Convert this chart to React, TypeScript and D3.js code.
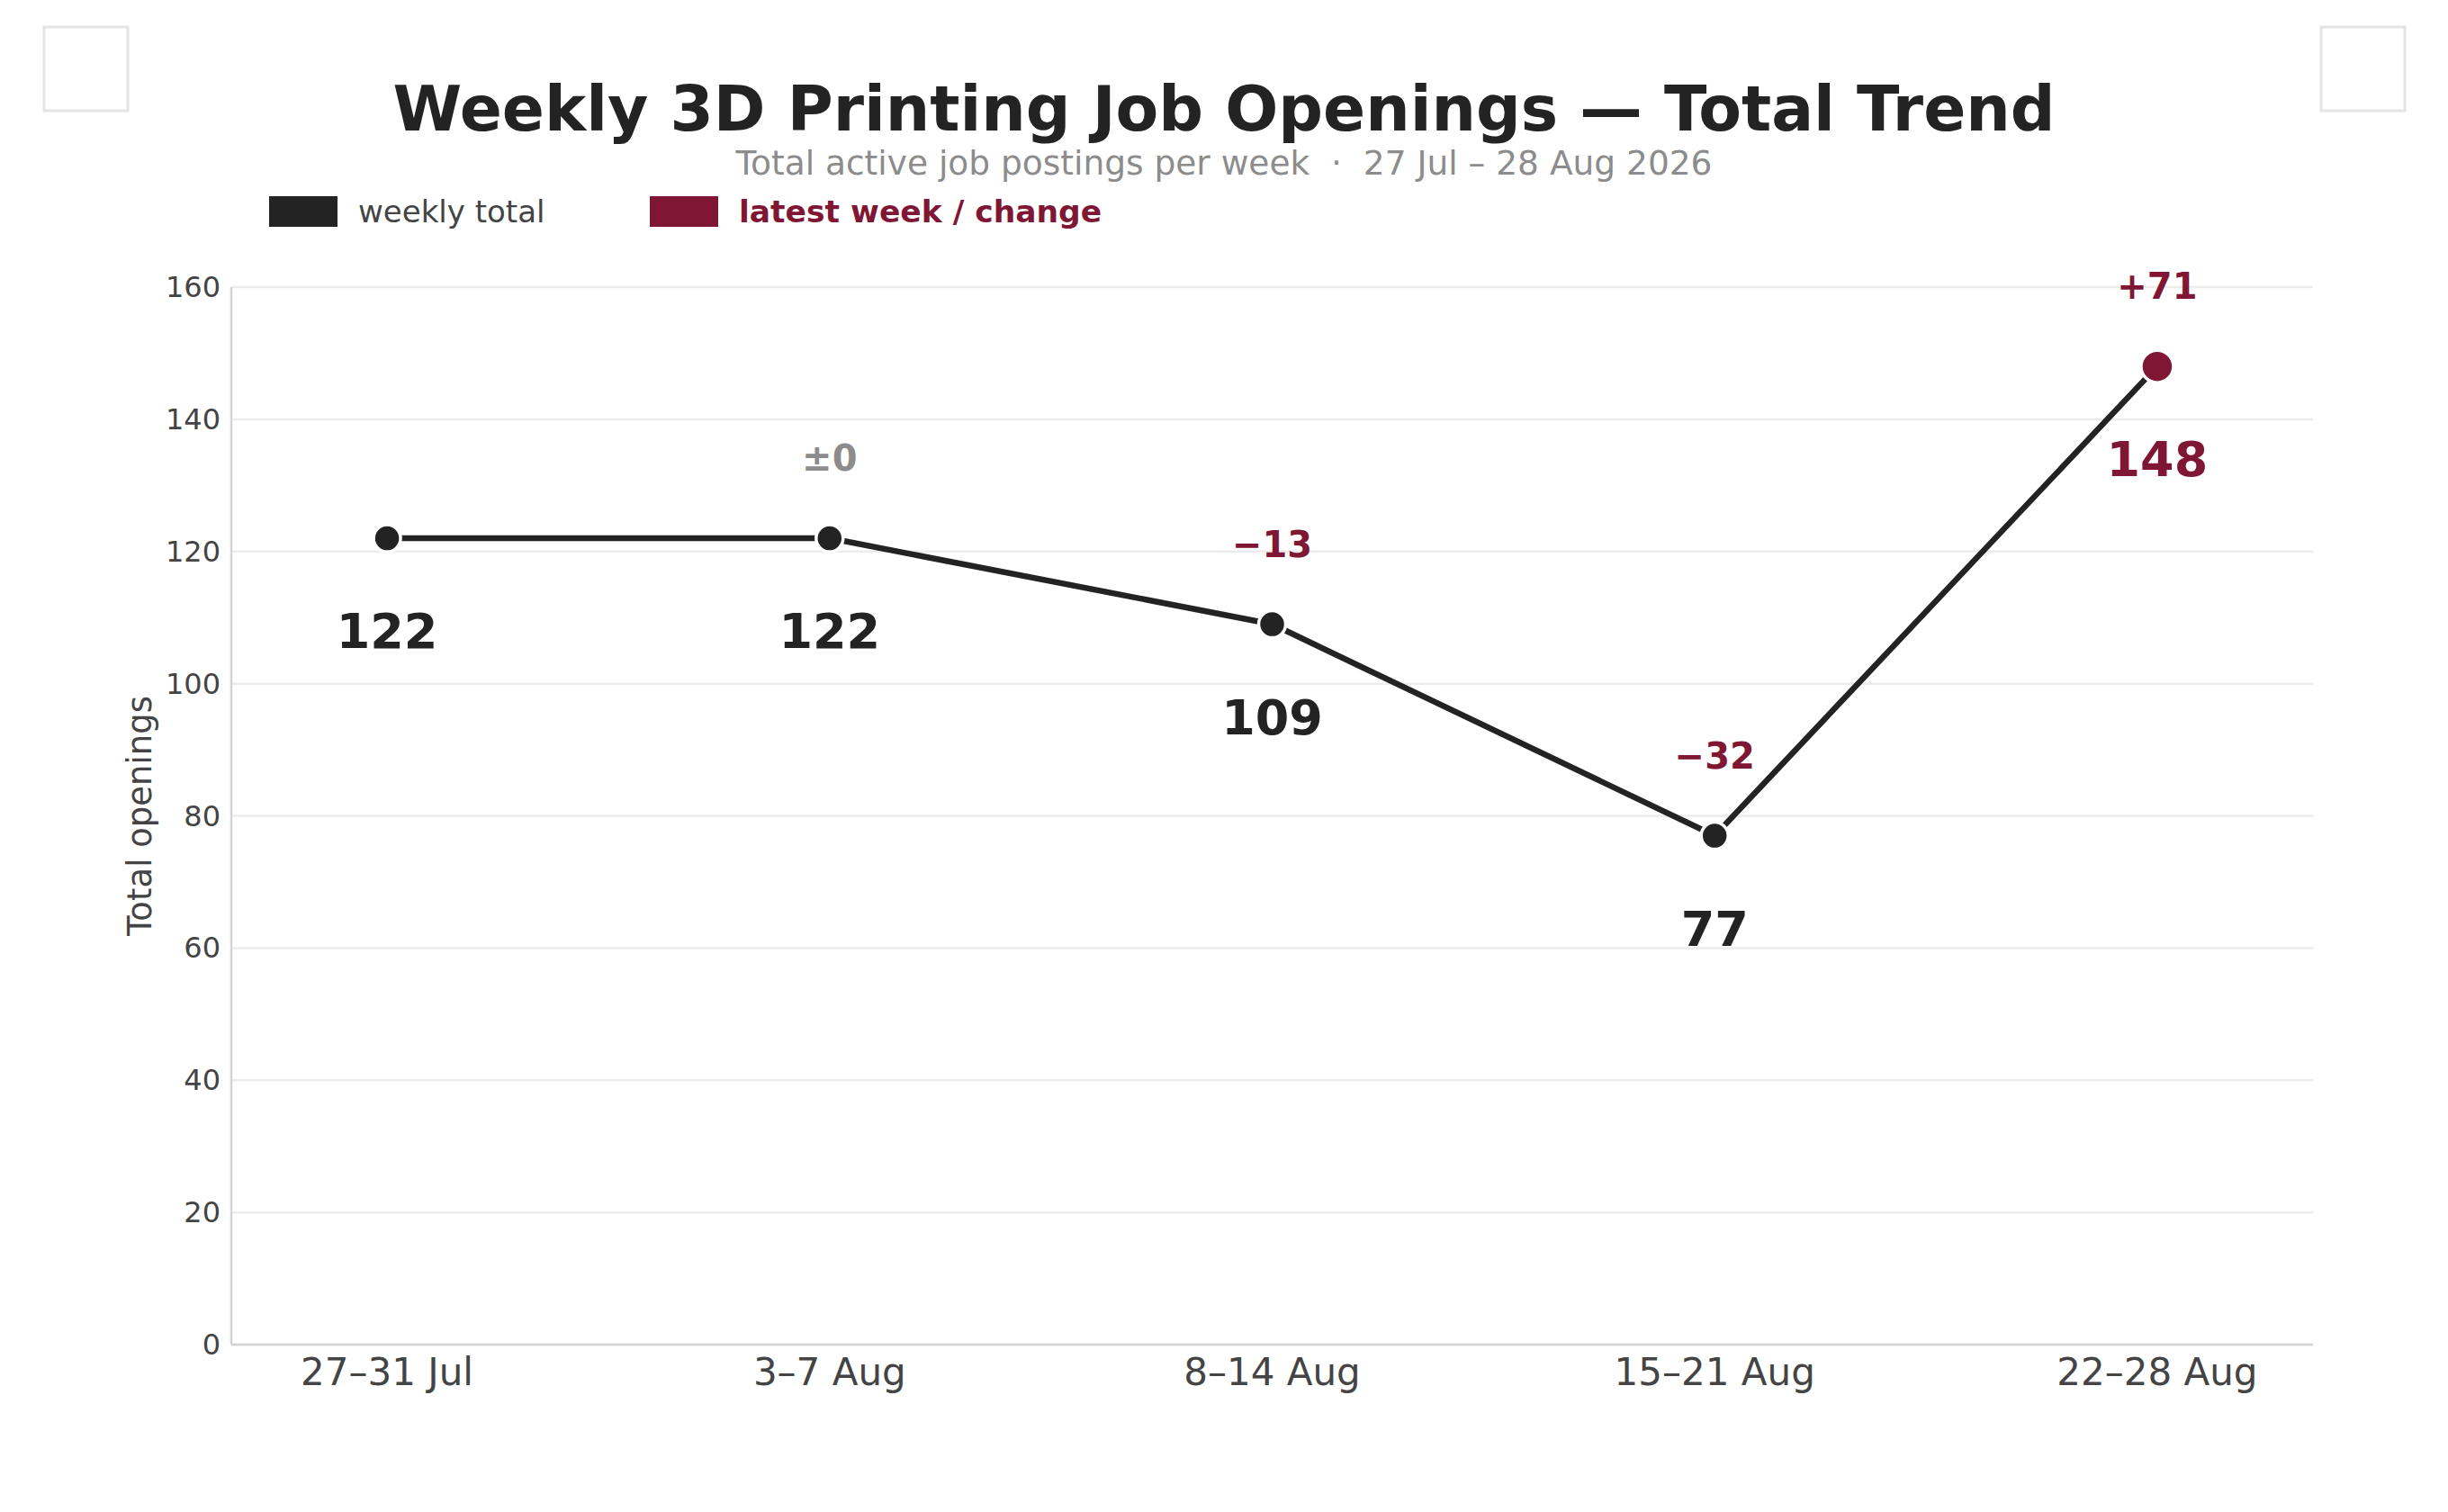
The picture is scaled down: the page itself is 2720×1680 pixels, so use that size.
import React, { useEffect } from 'react';
import * as d3 from 'd3';

const weeks = ['27–31 Jul', '3–7 Aug', '8–14 Aug', '15–21 Aug', '22–28 Aug'];
const totals = [122, 122, 109, 77, 148];
const yTicks = [0, 20, 40, 60, 80, 100, 120, 140, 160];

const DARK = '#232323';
const CRIMSON = '#7f1734';
const GREY = '#8c8c8c';
const FONT = '"DejaVu Sans", Verdana, sans-serif';

const W = 2720;
const H = 1680;
const margin = { top: 319, right: 150, bottom: 186, left: 257 };

const fmtChange = (d: number) => (d === 0 ? '±0' : d > 0 ? `+${d}` : `−${Math.abs(d)}`);

const App: React.FC = () => {
  useEffect(() => {
    document.body.style.margin = '0';
  }, []);

  const x = d3
    .scalePoint<string>()
    .domain(weeks)
    .range([margin.left, W - margin.right])
    .padding(0.352);

  const y = d3
    .scaleLinear()
    .domain([0, 160])
    .range([H - margin.bottom, margin.top]);

  const line = d3
    .line<number>()
    .x((_, i) => x(weeks[i])!)
    .y((d) => y(d));

  const last = totals.length - 1;

  return (
    <svg width={W} height={H} style={{ display: 'block', fontFamily: FONT }}>
      <rect width={W} height={H} fill="#fff" />

      {/* corner placeholders */}
      <rect x={49} y={30} width={93} height={93} fill="none" stroke="#e4e4e4" strokeWidth={3} />
      <rect x={2579} y={30} width={93} height={93} fill="none" stroke="#e4e4e4" strokeWidth={3} />

      {/* title block */}
      <text x={W / 2} y={145} textAnchor="middle" fontSize={69.5} fontWeight="bold" fill={DARK}>
        Weekly 3D Printing Job Openings — Total Trend
      </text>
      <text x={W / 2} y={194} textAnchor="middle" fontSize={37.5} fill={GREY}>
        {'Total active job postings per week\u00a0\u00a0·\u00a0\u00a027 Jul – 28 Aug 2026'}
      </text>

      {/* legend */}
      <rect x={299} y={218} width={76} height={34} fill={DARK} />
      <text x={398} y={235} dominantBaseline="central" fontSize={34} fill="#444">
        weekly total
      </text>
      <rect x={722} y={218} width={76} height={34} fill={CRIMSON} />
      <text x={821} y={235} dominantBaseline="central" fontSize={34.5} fontWeight="bold" fill={CRIMSON}>
        latest week / change
      </text>

      {/* grid */}
      {yTicks.map((t) => (
        <line
          key={`g${t}`}
          x1={margin.left}
          x2={W - margin.right}
          y1={y(t)}
          y2={y(t)}
          stroke="#ececec"
          strokeWidth={2.5}
        />
      ))}

      {/* axes */}
      <line x1={margin.left} x2={margin.left} y1={margin.top} y2={y(0)} stroke="#d4d4d4" strokeWidth={2.5} />
      <line x1={margin.left} x2={W - margin.right} y1={y(0)} y2={y(0)} stroke="#d4d4d4" strokeWidth={2.5} />

      {yTicks.map((t) => (
        <text
          key={`yt${t}`}
          x={margin.left - 12}
          y={y(t)}
          textAnchor="end"
          dominantBaseline="central"
          fontSize={32}
          fill="#444"
        >
          {t}
        </text>
      ))}
      {weeks.map((w) => (
        <text key={`xt${w}`} x={x(w)} y={1539} textAnchor="middle" fontSize={42} fill="#444">
          {w}
        </text>
      ))}
      <text
        transform={`translate(155,${(margin.top + y(0)) / 2}) rotate(-90)`}
        textAnchor="middle"
        dominantBaseline="central"
        fontSize={37}
        fill="#444"
      >
        Total openings
      </text>

      {/* series */}
      <path d={line(totals) ?? ''} fill="none" stroke={DARK} strokeWidth={6.5} strokeLinejoin="round" />
      {totals.map((v, i) => (
        <circle
          key={`p${i}`}
          cx={x(weeks[i])}
          cy={y(v)}
          r={i === last ? 18 : 15}
          fill={i === last ? CRIMSON : DARK}
          stroke="#fff"
          strokeWidth={3.5}
        />
      ))}

      {/* value labels */}
      {totals.map((v, i) => (
        <text
          key={`v${i}`}
          x={x(weeks[i])}
          y={y(v) + 122}
          textAnchor="middle"
          fontSize={54}
          fontWeight="bold"
          fill={i === last ? CRIMSON : DARK}
        >
          {v}
        </text>
      ))}

      {/* week-over-week change labels */}
      {totals.map((v, i) => {
        if (i === 0) return null;
        const d = v - totals[i - 1];
        return (
          <text
            key={`c${i}`}
            x={x(weeks[i])}
            y={y(v) - 75}
            textAnchor="middle"
            fontSize={40}
            fontWeight="bold"
            fill={d === 0 ? GREY : CRIMSON}
          >
            {fmtChange(d)}
          </text>
        );
      })}
    </svg>
  );
};

export default App;
